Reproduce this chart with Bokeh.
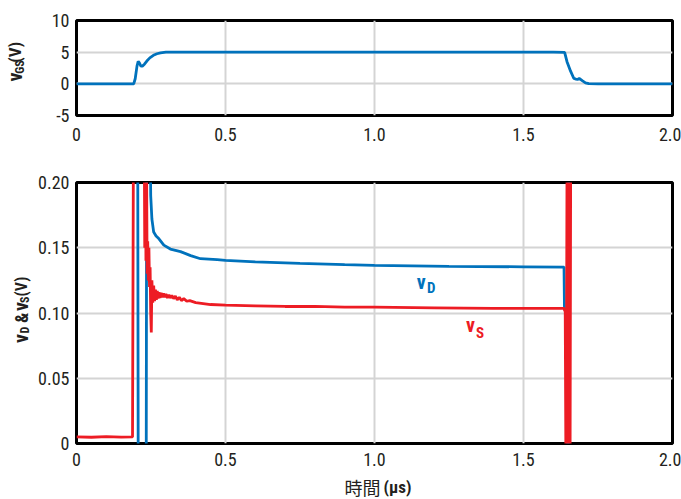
import math
from bokeh.plotting import figure
from bokeh.layouts import column, row
from bokeh.models import FixedTicker, CustomJSTickFormatter, Label, Range1d
from bokeh.embed import file_html
from bokeh.resources import INLINE

# ---------------- data ----------------
# gate-source voltage (top panel), time in microseconds
t_gs = [0, 0.192, 0.197, 0.203, 0.207, 0.211, 0.216, 0.221, 0.228, 0.236, 0.246,
        0.258, 0.270, 0.282, 0.30, 0.35, 1.0, 1.60, 1.638, 1.646, 1.658, 1.669,
        1.676, 1.681, 1.687, 1.697, 1.708, 1.719, 1.75, 2.0]
v_gs = [0, 0, 0.8, 2.8, 3.55, 3.3, 2.8, 2.8, 3.1, 3.6, 4.1,
        4.5, 4.75, 4.9, 5.0, 5.0, 5.0, 5.0, 4.98, 3.5, 2.0, 0.85,
        0.75, 0.7, 0.85, 0.5, 0.15, 0.02, 0, 0]

# drain voltage vD (bottom panel)
t_d = [0, 0.205, 0.207, 0.234, 0.236, 0.245, 0.249, 0.253, 0.259, 0.267, 0.276,
       0.293, 0.315, 0.349, 0.383, 0.416, 0.472, 0.50, 0.60, 0.75, 0.90, 1.0,
       1.25, 1.50, 1.636, 1.6375, 1.645, 1.650, 1.653, 2.0]
v_d = [0.30, 0.30, -0.01, -0.01, 0.30, 0.30, 0.19, 0.172, 0.162, 0.159, 0.157,
       0.152, 0.149, 0.147, 0.144, 0.1416, 0.1409, 0.1403, 0.1392, 0.138, 0.137, 0.1365,
       0.1357, 0.1354, 0.1352, 0.103, 0.100, -0.05, 0.30, 0.30]

# source voltage vS (bottom panel)
t_s = [0, 0.05, 0.10, 0.15, 0.188, 0.192, 0.226, 0.229, 0.231, 0.233, 0.235,
       0.237, 0.239, 0.241, 0.243, 0.245, 0.247, 0.249, 0.251, 0.253, 0.256,
       0.259, 0.262, 0.265, 0.268, 0.271, 0.274, 0.277, 0.280, 0.284, 0.288,
       0.292, 0.296, 0.300, 0.305, 0.310, 0.315, 0.320, 0.326, 0.332, 0.338,
       0.345, 0.352, 0.360, 0.370, 0.380, 0.40, 0.45, 0.50, 0.60, 0.70, 0.80,
       0.90, 1.0, 1.2, 1.4, 1.6, 1.636, 1.640, 1.643, 1.647, 1.650, 1.653,
       1.656, 1.659, 2.0]
v_s = [0.0050, 0.0048, 0.0052, 0.0049, 0.0050, 0.30, 0.30, 0.150, 0.250, 0.140, 0.220,
       0.130, 0.155, 0.125, 0.150, 0.120, 0.135, 0.100, 0.085, 0.125, 0.108,
       0.121, 0.109, 0.118, 0.110, 0.117, 0.111, 0.116, 0.1115, 0.1155, 0.112,
       0.115, 0.112, 0.1145, 0.1115, 0.114, 0.1115, 0.1135, 0.111, 0.113, 0.110,
       0.112, 0.1095, 0.111, 0.109, 0.1095, 0.108, 0.1065, 0.106, 0.1055, 0.105, 0.105,
       0.1045, 0.1045, 0.104, 0.1035, 0.1035, 0.1035, 0.101, -0.05, 0.30, -0.05, 0.30,
       -0.05, 0.30, 0.30]

x_ticks = [0, 0.5, 1.0, 1.5, 2.0]
gs_ticks = [-5, 0, 5, 10]
ds_ticks = [0, 0.05, 0.10, 0.15, 0.20]

BLUE = "#0072bc"
RED = "#ed1c24"
INK = "#231f20"
GRID = "#d4d4d4"
FONT = "Roboto Condensed, DejaVu Sans Condensed, sans-serif"
CJK = "Noto Sans CJK JP"

LAB_W = 34          # width of the strip holding the rotated axis titles
H1, H2, H3 = 148, 325, 26
LIFT = 0.25         # baseline correction, in em


def style(p, yticks, yfmt, xstand):
    p.outline_line_color = "black"
    p.outline_line_width = 3
    p.background_fill_color = "white"
    p.border_fill_color = "white"
    p.xaxis.ticker = FixedTicker(ticks=x_ticks)
    p.yaxis.ticker = FixedTicker(ticks=yticks)
    p.xgrid.ticker = FixedTicker(ticks=x_ticks)
    p.ygrid.ticker = FixedTicker(ticks=yticks)
    p.xaxis.formatter = CustomJSTickFormatter(code="return tick == 0 ? '0' : tick.toFixed(1);")
    p.yaxis.formatter = yfmt
    for g in (p.xgrid, p.ygrid):
        g.grid_line_color = GRID
        g.grid_line_width = 2
    for ax in (p.xaxis, p.yaxis):
        ax.axis_line_color = None
        ax.major_tick_line_color = None
        ax.minor_tick_line_color = None
        ax.major_tick_out = 0
        ax.major_tick_in = 0
        ax.major_label_text_font = FONT
        ax.major_label_text_font_size = "18px"
        ax.major_label_text_color = INK
    p.xaxis.major_label_standoff = xstand
    p.yaxis.major_label_standoff = 7


def text_strip(width, height):
    """A bare figure whose data units are the strip's own pixels (origin at bottom-left)."""
    f = figure(width=width, height=height, x_range=Range1d(0, width), y_range=Range1d(0, height),
               output_backend="svg", toolbar_location=None,
               x_axis_location=None, y_axis_location=None,
               min_border=0, min_border_left=0, min_border_right=0,
               min_border_top=0, min_border_bottom=0)
    f.outline_line_color = None
    f.xgrid.visible = False
    f.ygrid.visible = False
    f.background_fill_color = "white"
    f.border_fill_color = "white"
    return f


def piece(p, text, x, y, size, angle=0.0, bold=True, color=INK, font=FONT,
          align="left", baseline="alphabetic", px_per_y=1.0):
    if baseline == "alphabetic":
        if angle:
            x -= LIFT * size
        else:
            y += LIFT * size / px_per_y
    p.add_layout(Label(x=x, y=y, text=text, angle=angle, text_font=font,
                       text_font_size=f"{size}px",
                       text_font_style="bold" if bold else "normal",
                       text_color=color, text_align=align, text_baseline=baseline))


up = math.pi / 2

# ---------------- top panel: vGS ----------------
p1 = figure(width=681 - LAB_W, height=H1, x_range=Range1d(0, 2), y_range=Range1d(-5, 10),
            output_backend="svg", toolbar_location=None,
            min_border_left=76 - LAB_W, min_border_right=9,
            min_border_top=20, min_border_bottom=H1 - 20 - 95)
style(p1, gs_ticks, CustomJSTickFormatter(code="return tick.toFixed(0);"), 12)
p1.line(t_gs, v_gs, line_color=BLUE, line_width=2.8)

lab1 = text_strip(LAB_W, H1)
# (x = baseline position in px, y measured up from the strip's bottom)
piece(lab1, "v", 19.5, H1 - 95, 20, angle=up)
piece(lab1, "GS", 22, H1 - 83, 12, angle=up)
piece(lab1, "(V)", 18.5, H1 - 66, 17, angle=up)

# ---------------- bottom panel: vD & vS ----------------
p2 = figure(width=681 - LAB_W, height=H2, x_range=Range1d(0, 2), y_range=Range1d(0, 0.2),
            output_backend="svg", toolbar_location=None,
            min_border_left=76 - LAB_W, min_border_right=9,
            min_border_top=34, min_border_bottom=H2 - 34 - 261)
style(p2, ds_ticks, CustomJSTickFormatter(code="return tick == 0 ? '0' : tick.toFixed(2);"), 9)
p2.line(t_d, v_d, line_color=BLUE, line_width=2.8)
p2.line(t_s, v_s, line_color=RED, line_width=2.8)

# series labels inside the frame
PX_PER_Y = 261 / 0.2
piece(p2, "v", 1.142, 0.1198, 20, color=BLUE, px_per_y=PX_PER_Y)
piece(p2, "D", 1.176, 0.116, 15, color=BLUE, px_per_y=PX_PER_Y)
piece(p2, "v", 1.307, 0.0866, 20, color=RED, px_per_y=PX_PER_Y)
piece(p2, "S", 1.341, 0.082, 15, color=RED, px_per_y=PX_PER_Y)

lab2 = text_strip(LAB_W, H2)
top2 = H1  # page y of this row's top
piece(lab2, "v", 25, H2 - (348 - top2), 20, angle=up)
piece(lab2, "D", 27, H2 - (336 - top2), 12, angle=up)
piece(lab2, "&", 25, H2 - (323 - top2), 18, angle=up)
piece(lab2, "v", 25, H2 - (308 - top2), 20, angle=up)
piece(lab2, "S", 27, H2 - (298 - top2), 12, angle=up)
piece(lab2, "(V)", 24.5, H2 - (290 - top2), 16, angle=up)

# ---------------- x-axis title strip ----------------
xlab = text_strip(681, H3)
piece(xlab, "時間", 380, H3 - 13, 18, bold=False, font=CJK, align="right", baseline="middle")
piece(xlab, "(μs)", 383, H3 - 13, 17, baseline="middle")

layout = column(row(lab1, p1, spacing=0), row(lab2, p2, spacing=0), xlab, spacing=0)
open("out.html", "w").write(file_html(layout, INLINE))
